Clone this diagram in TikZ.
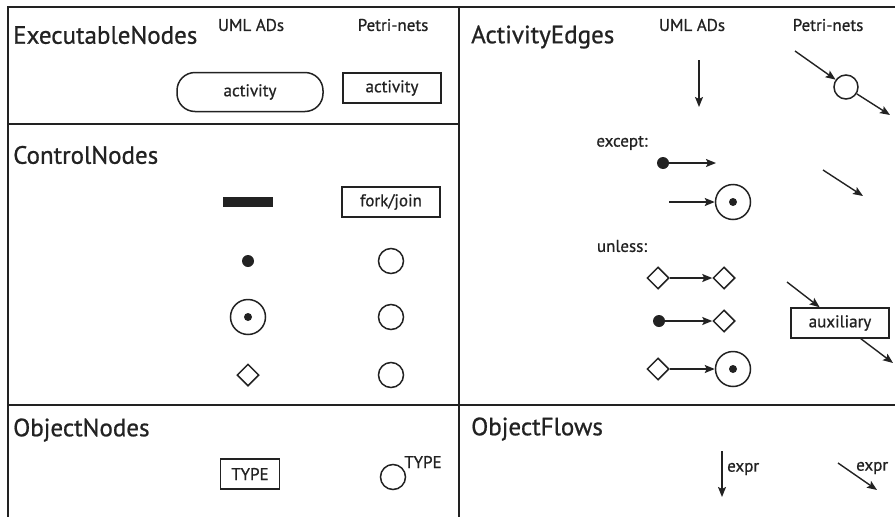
\documentclass[tikz,border=0pt]{standalone}
\usepackage{fontspec}
\setmainfont{PT Sans}[UprightFeatures={FakeBold=0.8}]
\usetikzlibrary{arrows.meta,shapes.geometric,positioning}

\definecolor{ink}{HTML}{222222}
\tikzset{
	frame/.style={line width=2pt, draw=ink},
	sectitle/.style={anchor=west, inner sep=0pt, text=ink, font=\fontsize{25}{30}\selectfont},
	txt/.style={inner sep=0pt, text=ink, font=\fontsize{17}{20}\selectfont},
	actbox/.style={txt, draw=ink, line width=1.5pt, rounded corners=18pt, minimum width=146pt, minimum height=39pt},
	trbox/.style={txt, draw=ink, line width=1.5pt, minimum width=98pt, minimum height=30pt},
	bar/.style={fill=ink, inner sep=0pt, minimum width=50pt, minimum height=10pt},
	initial/.style={circle, fill=ink, inner sep=0pt, minimum size=12pt},
	final/.style={circle, draw=ink, line width=1.5pt, inner sep=0pt, minimum size=35pt,
		path picture={\fill[ink] (path picture bounding box.center) circle (4pt);}},
	place/.style={circle, draw=ink, line width=1.5pt, inner sep=0pt, minimum size=25pt},
	decision/.style={diamond, draw=ink, line width=1.5pt, inner sep=0pt, minimum width=22pt, minimum height=22pt},
	flow/.style={draw=ink, line width=1.4pt, -{Stealth[length=10pt, width=8pt, inset=2pt]}}
}

\begin{document}
\begin{tikzpicture}[x=1pt, y=-1pt]
	\useasboundingbox (0,0) rectangle (895,517);
	\draw[frame] (8,517) -- (8,7) -- (895,7);
	\draw[frame] (459,7) -- (459,517);
	\draw[frame] (8,124) -- (459,124);
	\draw[frame] (8,405) -- (895,405);
	
	% executable nodes
	\node[sectitle] (exec) at (13,35) {ExecutableNodes};
	\node[txt] (umlL) at (251,25) {UML ADs};
	\node[txt] (pnL) at (393,25) {Petri-nets};
	\node[actbox] (act) at (250,92) {activity};
	\node[trbox] (actPN) at (392,88) {activity};
	
	% control nodes
	\node[sectitle] (ctrl) at (13,155) {ControlNodes};
	\node[bar] (fork) at (248,202) {};
	\node[trbox] (forkPN) at (391,202) {fork/join};
	\node[initial] (init) at (248,261) {};
	\node[place] (initPN) at (391,261) {};
	\node[final] (fin) at (248,317) {};
	\node[place] (finPN) at (391,317) {};
	\node[decision] (dec) at (248,375) {};
	\node[place] (decPN) at (391,375) {};
	
	% object nodes
	\node[sectitle] (obj) at (13,430) {ObjectNodes};
	\node[trbox, minimum width=59pt] (type) at (250,474) {TYPE};
	\node[place] (typePN) at (393,477) {};
	\node[txt] (typeL) at (423,462) {TYPE};
	
	% activity edges
	\node[sectitle] (edges) at (471,37) {ActivityEdges};
	\node[txt] (umlR) at (692,25) {UML ADs};
	\node[txt] (pnR) at (828,25) {Petri-nets};
	\coordinate (e1s) at (699,60);
	\coordinate (e1t) at (699,107);
	\coordinate (e2s) at (795,51);
	\node[place, minimum size=24pt] (e2p) at (846,87) {};
	\coordinate (e2t) at (890,115);
	\draw[flow] (e1s) -- (e1t);
	\draw[flow] (e2s) -- (e2p);
	\draw[flow] (e2p) -- (e2t);
	
	\node[txt] (except) at (622,143) {except:};
	\node[initial] (x1) at (663,163) {};
	\coordinate (x1t) at (716,163);
	\coordinate (x2s) at (669,202);
	\node[final] (x2) at (733,202) {};
	\coordinate (x3s) at (823,170);
	\coordinate (x3t) at (863,196);
	\draw[flow] (x1) -- (x1t);
	\draw[flow] (x2s) -- (x2);
	\draw[flow] (x3s) -- (x3t);
	
	\node[txt] (unless) at (622,246) {unless:};
	\node[decision] (u1a) at (658,278) {};
	\node[decision] (u1b) at (724,278) {};
	\node[initial] (u2a) at (659,321) {};
	\node[decision] (u2b) at (724,321) {};
	\node[decision] (u3a) at (658,369) {};
	\node[final] (u3b) at (733,369) {};
	\node[trbox] (aux) at (840,323) {auxiliary};
	\coordinate (auxs) at (787,282);
	\coordinate (auxt) at (893,363);
	\draw[flow] (u1a) -- (u1b);
	\draw[flow] (u2a) -- (u2b);
	\draw[flow] (u3a) -- (u3b);
	\draw[flow] (auxs) -- (aux);
	\draw[flow] (aux) -- (auxt);
	
	% object flows
	\node[sectitle] (flows) at (471,429) {ObjectFlows};
	\coordinate (f1s) at (722,451);
	\coordinate (f1t) at (722,497);
	\node[txt, anchor=west] (f1l) at (727,469) {expr};
	\coordinate (f2s) at (838,463);
	\coordinate (f2t) at (877,490);
	\node[txt, anchor=west] (f2l) at (856,468) {expr};
	\draw[flow] (f1s) -- (f1t);
	\draw[flow] (f2s) -- (f2t);
\end{tikzpicture}
\end{document}
